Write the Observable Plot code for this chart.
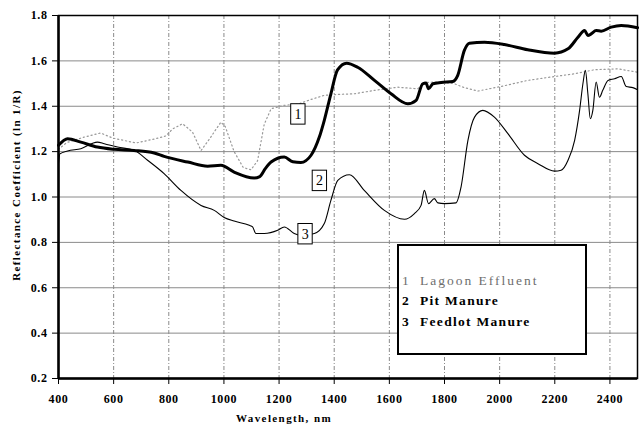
<!DOCTYPE html>
<html>
<head>
<meta charset="utf-8">
<script src="https://cdn.jsdelivr.net/npm/d3@7"></script>
<script src="https://cdn.jsdelivr.net/npm/@observablehq/plot@0.6"></script>
<style>
  html, body { margin: 0; padding: 0; background: #fff; }
  #wrap { position: relative; width: 639px; height: 427px; }
  #legend {
    position: absolute; left: 397px; top: 244px; width: 186px; height: 107px;
    border: 2px solid #000; background: #fff;
    font-family: "Liberation Serif", "DejaVu Serif", serif; font-weight: bold;
    font-size: 13.5px; letter-spacing: 1.3px;
  }
  #legend .row { position: absolute; left: 3px; white-space: nowrap; }
  #legend .num { display: inline-block; width: 18px; }
</style>
</head>
<body>
<div id="wrap"></div>
<script>
// ---- Data ----
const seriesNames = ["Lagoon Effluent", "Pit Manure", "Feedlot Manure"];
const seriesIds = ["1", "2", "3"];

const lagoonWl  = [400, 430, 493, 553, 596, 681, 753, 789, 814, 850, 886, 917, 950, 989, 1005, 1037, 1070, 1098, 1122, 1146, 1171, 1219, 1270, 1316, 1364, 1412, 1473, 1546, 1630, 1703, 1727, 1788, 1836, 1872, 1921, 2005, 2102, 2199, 2272, 2344, 2429, 2500];
const lagoonVal = [1.21, 1.24, 1.264, 1.282, 1.26, 1.238, 1.257, 1.269, 1.30, 1.323, 1.286, 1.205, 1.26, 1.33, 1.31, 1.20, 1.13, 1.12, 1.16, 1.32, 1.389, 1.404, 1.41, 1.43, 1.448, 1.452, 1.455, 1.47, 1.484, 1.477, 1.505, 1.507, 1.499, 1.482, 1.467, 1.487, 1.514, 1.531, 1.543, 1.561, 1.565, 1.55];

const pitWl  = [400, 433, 481, 541, 601, 674, 747, 783, 869, 941, 989, 1037, 1110, 1130, 1150, 1171, 1219, 1250, 1279, 1316, 1346, 1364, 1388, 1412, 1445, 1485, 1546, 1606, 1667, 1697, 1721, 1733, 1742, 1758, 1788, 1830, 1848, 1872, 1890, 1945, 2017, 2102, 2199, 2248, 2284, 2308, 2320, 2332, 2350, 2368, 2405, 2441, 2500];
const pitVal = [1.228, 1.257, 1.242, 1.22, 1.21, 1.205, 1.194, 1.179, 1.154, 1.136, 1.14, 1.11, 1.084, 1.09, 1.125, 1.154, 1.176, 1.155, 1.152, 1.184, 1.264, 1.338, 1.455, 1.56, 1.59, 1.572, 1.514, 1.455, 1.411, 1.426, 1.499, 1.502, 1.477, 1.499, 1.505, 1.509, 1.536, 1.646, 1.678, 1.682, 1.672, 1.649, 1.634, 1.653, 1.704, 1.734, 1.712, 1.719, 1.734, 1.731, 1.749, 1.756, 1.746];

const feedWl  = [400, 405, 433, 481, 541, 566, 614, 674, 723, 783, 844, 917, 965, 1001, 1037, 1092, 1104, 1116, 1146, 1195, 1219, 1255, 1280, 1328, 1364, 1388, 1413, 1455, 1509, 1582, 1655, 1691, 1715, 1727, 1742, 1763, 1776, 1800, 1842, 1860, 1885, 1909, 1939, 1981, 2030, 2090, 2139, 2199, 2223, 2248, 2272, 2290, 2302, 2311, 2320, 2329, 2338, 2350, 2362, 2374, 2393, 2417, 2441, 2459, 2483, 2500];
const feedVal = [1.15, 1.19, 1.203, 1.213, 1.242, 1.235, 1.22, 1.206, 1.162, 1.103, 1.029, 0.963, 0.941, 0.91, 0.894, 0.875, 0.868, 0.839, 0.839, 0.853, 0.868, 0.839, 0.83, 0.839, 0.883, 0.985, 1.073, 1.098, 1.029, 0.941, 0.902, 0.927, 0.963, 1.029, 0.971, 0.993, 0.974, 0.971, 0.974, 1.044, 1.25, 1.352, 1.382, 1.352, 1.279, 1.184, 1.147, 1.114, 1.118, 1.162, 1.25, 1.382, 1.499, 1.558, 1.455, 1.345, 1.382, 1.507, 1.44, 1.47, 1.514, 1.521, 1.531, 1.487, 1.482, 1.473];

// curve label boxes (wavelength, value)
const labelWl  = [1270, 1348, 1296];
const labelVal = [1.364, 1.071, 0.836];

const xTicks = [400, 600, 800, 1000, 1200, 1400, 1600, 1800, 2000, 2200, 2400];
const yTicks = [0.2, 0.4, 0.6, 0.8, 1.0, 1.2, 1.4, 1.6, 1.8];

const xTitle = "Wavelength, nm";
const yTitle = "Reflectance Coefficient (ln 1/R)";

// ---- Build tables ----
const lagoon = lagoonWl.map((w, i) => ({wl: w, v: lagoonVal[i]}));
const pit = pitWl.map((w, i) => ({wl: w, v: pitVal[i]}));
const feed = feedWl.map((w, i) => ({wl: w, v: feedVal[i]}));
const labels = seriesIds.map((id, i) => ({id, wl: labelWl[i], v: labelVal[i]}));

const serif = "Liberation Serif";

const chart = Plot.plot({
  width: 639,
  height: 427,
  marginLeft: 58,
  marginRight: 2,
  marginTop: 15,
  marginBottom: 49,
  x: {domain: [400, 2500]},
  y: {domain: [0.2, 1.8]},
  style: {fontFamily: serif, background: "#fff"},
  marks: [
    Plot.gridY(yTicks, {stroke: "#8a8a8a", strokeOpacity: 1, strokeWidth: 1}),
    Plot.gridX(xTicks, {stroke: "#8a8a8a", strokeOpacity: 1, strokeWidth: 1, strokeDasharray: "4,2,1,2"}),
    Plot.line(lagoon, {x: "wl", y: "v", stroke: "#999", strokeWidth: 1.2, strokeDasharray: "1.2,2.8"}),
    Plot.line(feed, {x: "wl", y: "v", stroke: "#000", strokeWidth: 1.1, curve: "monotone-x"}),
    Plot.line(pit, {x: "wl", y: "v", stroke: "#000", strokeWidth: 3, curve: "monotone-x"}),
    Plot.rect(labels, {x1: d => d.wl - 26, x2: d => d.wl + 26, y1: d => d.v - 0.045, y2: d => d.v + 0.045, fill: "#fff", stroke: "#000", strokeWidth: 1}),
    Plot.text(labels, {x: "wl", y: "v", text: "id", fontSize: 14, fontFamily: serif, fill: "#000"}),
    Plot.frame({stroke: "#000", strokeWidth: 1.5}),
    Plot.ruleX([400], {stroke: "#000", strokeWidth: 2.5}),
    Plot.ruleY([0.2], {stroke: "#000", strokeWidth: 2.5}),
    Plot.axisX(xTicks, {tickSize: 6, tickPadding: 10, fontSize: 12, fontWeight: "bold", label: null, tickFormat: d => String(d)}),
    Plot.axisY(yTicks, {tickSize: 6, tickPadding: 5, fontSize: 12, fontWeight: "bold", label: null, tickFormat: d3.format(".1f")}),
    Plot.text([xTitle], {frameAnchor: "bottom", textAnchor: "middle", dy: 43, dx: -64, fontSize: 11, fontWeight: "bold", fontFamily: serif, fill: "#000"}),
    Plot.text([yTitle], {frameAnchor: "left", textAnchor: "middle", rotate: -90, dx: -42, dy: -12, fontSize: 11, fontWeight: "bold", fontFamily: serif, fill: "#000"})
  ]
});

d3.select(chart).selectAll("text").style("letter-spacing", "0.6px");
d3.select(chart).selectAll("text").filter(function() { return this.textContent === xTitle || this.textContent === yTitle; }).style("letter-spacing", "1.4px");

const wrap = document.getElementById("wrap");
wrap.appendChild(chart);

// legend overlay
const legend = document.createElement("div");
legend.id = "legend";
const rowTops = [27, 47, 68];
const rowColors = ["#6e6e6e", "#000", "#000"];
const rowSpacing = ["2px", "1.3px", "1.3px"];
seriesIds.forEach((id, i) => {
  const row = document.createElement("div");
  row.className = "row";
  row.style.top = rowTops[i] + "px";
  row.style.color = rowColors[i];
  row.style.letterSpacing = rowSpacing[i];
  if (i === 0) row.style.fontWeight = "normal";
  row.innerHTML = `<span class="num">${id}</span>${seriesNames[i]}`;
  legend.appendChild(row);
});
wrap.appendChild(legend);
</script>
</body>
</html>
